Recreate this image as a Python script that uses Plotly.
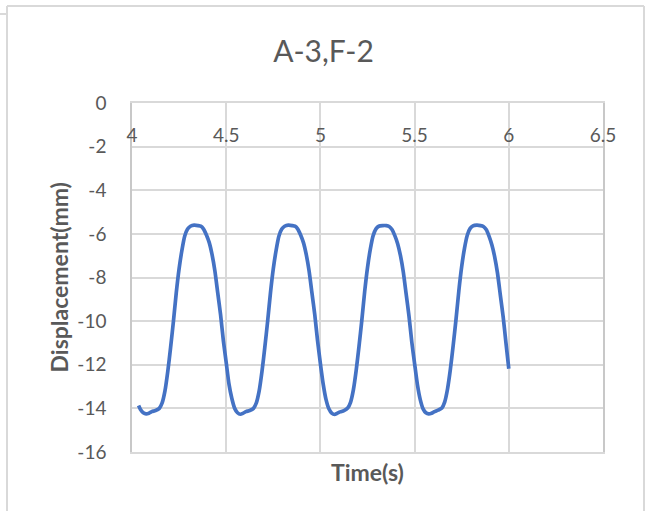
import plotly.graph_objects as go

# ---- data ----
time_c1 = [4.035, 4.045, 4.06, 4.075, 4.09, 4.105, 4.125, 4.145, 4.16, 4.175, 4.19, 4.205, 4.22, 4.235,
           4.25, 4.265, 4.28, 4.295, 4.31, 4.33, 4.35, 4.365, 4.38, 4.395, 4.41, 4.425, 4.44, 4.455, 4.47, 4.485]
disp_c1 = [-13.87, -14.05, -14.2, -14.25, -14.22, -14.15, -14.1, -14.0, -13.75, -13.2, -12.3, -11.2, -10.0, -8.7,
           -7.6, -6.75, -6.1, -5.78, -5.65, -5.6, -5.62, -5.65, -5.78, -6.05, -6.4, -6.95, -7.7, -8.7, -9.7, -10.9]

time_c2 = [4.5, 4.515, 4.53, 4.545, 4.56, 4.575, 4.59, 4.605, 4.625, 4.645, 4.66, 4.675, 4.69, 4.705, 4.72,
           4.735, 4.75, 4.765, 4.78, 4.795, 4.81, 4.83, 4.85, 4.865, 4.88, 4.895, 4.91, 4.925, 4.94, 4.955, 4.97, 4.985]
disp_c2 = [-11.9, -12.9, -13.55, -14.0, -14.2, -14.27, -14.22, -14.15, -14.1, -14.0, -13.75, -13.2, -12.3, -11.2, -10.0,
           -8.7, -7.6, -6.75, -6.1, -5.78, -5.65, -5.6, -5.62, -5.65, -5.78, -6.05, -6.4, -6.95, -7.7, -8.7, -9.7, -10.9]

time_c3 = [5.0, 5.015, 5.03, 5.045, 5.06, 5.075, 5.09, 5.105, 5.125, 5.145, 5.16, 5.175, 5.19, 5.205, 5.22,
           5.235, 5.25, 5.265, 5.28, 5.295, 5.31, 5.33, 5.35, 5.365, 5.38, 5.395, 5.41, 5.425, 5.44, 5.455, 5.47, 5.485]
disp_c3 = [-11.95, -12.9, -13.6, -14.02, -14.22, -14.28, -14.22, -14.16, -14.1, -13.98, -13.72, -13.15, -12.25, -11.15, -9.95,
           -8.65, -7.55, -6.7, -6.08, -5.77, -5.65, -5.62, -5.62, -5.66, -5.8, -6.08, -6.45, -7.0, -7.75, -8.75, -9.75, -10.95]

time_c4 = [5.5, 5.515, 5.53, 5.545, 5.56, 5.575, 5.59, 5.605, 5.625, 5.645, 5.66, 5.675, 5.69, 5.705, 5.72,
           5.735, 5.75, 5.765, 5.78, 5.795, 5.81, 5.83, 5.85, 5.865, 5.88, 5.895, 5.91, 5.925, 5.94, 5.955, 5.97, 5.985, 6.0]
disp_c4 = [-11.95, -12.92, -13.6, -14.02, -14.2, -14.25, -14.22, -14.15, -14.08, -13.98, -13.7, -13.1, -12.2, -11.1, -9.9,
           -8.6, -7.5, -6.65, -6.05, -5.75, -5.63, -5.6, -5.62, -5.66, -5.8, -6.1, -6.5, -7.05, -7.8, -8.8, -9.8, -11.0, -12.18]

time_s = time_c1 + time_c2 + time_c3 + time_c4
disp_mm = disp_c1 + disp_c2 + disp_c3 + disp_c4

x_ticks = [4, 4.5, 5, 5.5, 6, 6.5]
x_tick_text = ["4", "4.5", "5", "5.5", "6", "6.5"]
y_ticks = [0, -2, -4, -6, -8, -10, -12, -14, -16]
y_tick_text = ["0", "-2", "-4", "-6", "-8", "-10", "-12", "-14", "-16"]

title_text = "A-3,F-2"
x_title = "Time(s)"
y_title = "Displacement(mm)"

FONT = "Lato, Arial, sans-serif"
TXT = "#595959"
GRID = "#d9d9d9"

fig = go.Figure()
fig.add_trace(go.Scatter(
    x=time_s, y=disp_mm, mode="lines",
    line=dict(color="#4472C4", width=3.7, shape="spline", smoothing=0.6),
    showlegend=False, hoverinfo="skip",
))
# invisible trace so the label axis is drawn
fig.add_trace(go.Scatter(x=[x_ticks[0], x_ticks[-1]], y=[y_ticks[0], y_ticks[-1]], xaxis="x2",
                         mode="markers", marker=dict(opacity=0), showlegend=False, hoverinfo="skip"))

fig.update_layout(
    width=647, height=511,
    margin=dict(l=132, r=44, t=103, b=59),
    paper_bgcolor="white", plot_bgcolor="white",
    font=dict(family=FONT, color=TXT),
    title=dict(text=title_text, x=0.5, xref="container", xanchor="center",
               y=1 - 51 / 511, yref="container", yanchor="middle",
               font=dict(size=30, color=TXT, family=FONT)),
    xaxis=dict(range=[4, 6.5], tickvals=x_ticks, showticklabels=False,
               showgrid=True, gridcolor=GRID, gridwidth=1.5,
               showline=True, linecolor=GRID, linewidth=1.5, mirror=True,
               zeroline=False, ticks=""),
    xaxis2=dict(range=[4, 6.5], overlaying="x", anchor="free", position=(452 - 122) / 349,
                side="bottom", tickvals=x_ticks, ticktext=x_tick_text,
                showgrid=False, showline=False, zeroline=False, ticks="",
                tickfont=dict(size=19, color=TXT, family=FONT)),
    yaxis=dict(range=[-16, 0], tickvals=y_ticks, ticktext=y_tick_text,
               showgrid=True, gridcolor=GRID, gridwidth=1.5,
               showline=True, linecolor="#c8c8c8", linewidth=1.5, mirror=True,
               zeroline=False, ticks="", ticklabelstandoff=20,
               tickfont=dict(size=19, color=TXT, family=FONT)),
    annotations=[
        dict(text="<b>" + x_title + "</b>", xref="paper", yref="paper", x=0.5, y=(452 - 472) / 349,
             xanchor="center", yanchor="middle", showarrow=False,
             font=dict(size=23, color=TXT, family=FONT)),
        dict(text="<b>" + y_title + "</b>", xref="paper", yref="paper", x=(58 - 132) / 471, y=0.5,
             xanchor="center", yanchor="middle", textangle=-90, showarrow=False,
             font=dict(size=23, color=TXT, family=FONT)),
    ],
    shapes=[
        dict(type="line", xref="paper", yref="paper", x0=(7 - 132) / 471, x1=(644 - 132) / 471,
             y0=(452 - 6) / 349, y1=(452 - 6) / 349, line=dict(color=GRID, width=2)),
        dict(type="line", xref="paper", yref="paper", x0=(7 - 132) / 471, x1=(7 - 132) / 471,
             y0=(452 - 6) / 349, y1=(452 - 530) / 349, line=dict(color=GRID, width=2)),
        dict(type="line", xref="paper", yref="paper", x0=(644 - 132) / 471, x1=(644 - 132) / 471,
             y0=(452 - 6) / 349, y1=(452 - 530) / 349, line=dict(color=GRID, width=2)),
        dict(type="line", xref="paper", yref="paper", x0=(0 - 132) / 471, x1=(7 - 132) / 471,
             y0=(452 - 14) / 349, y1=(452 - 14) / 349, line=dict(color=GRID, width=2)),
    ],
)

fig.write_html("out.html")
